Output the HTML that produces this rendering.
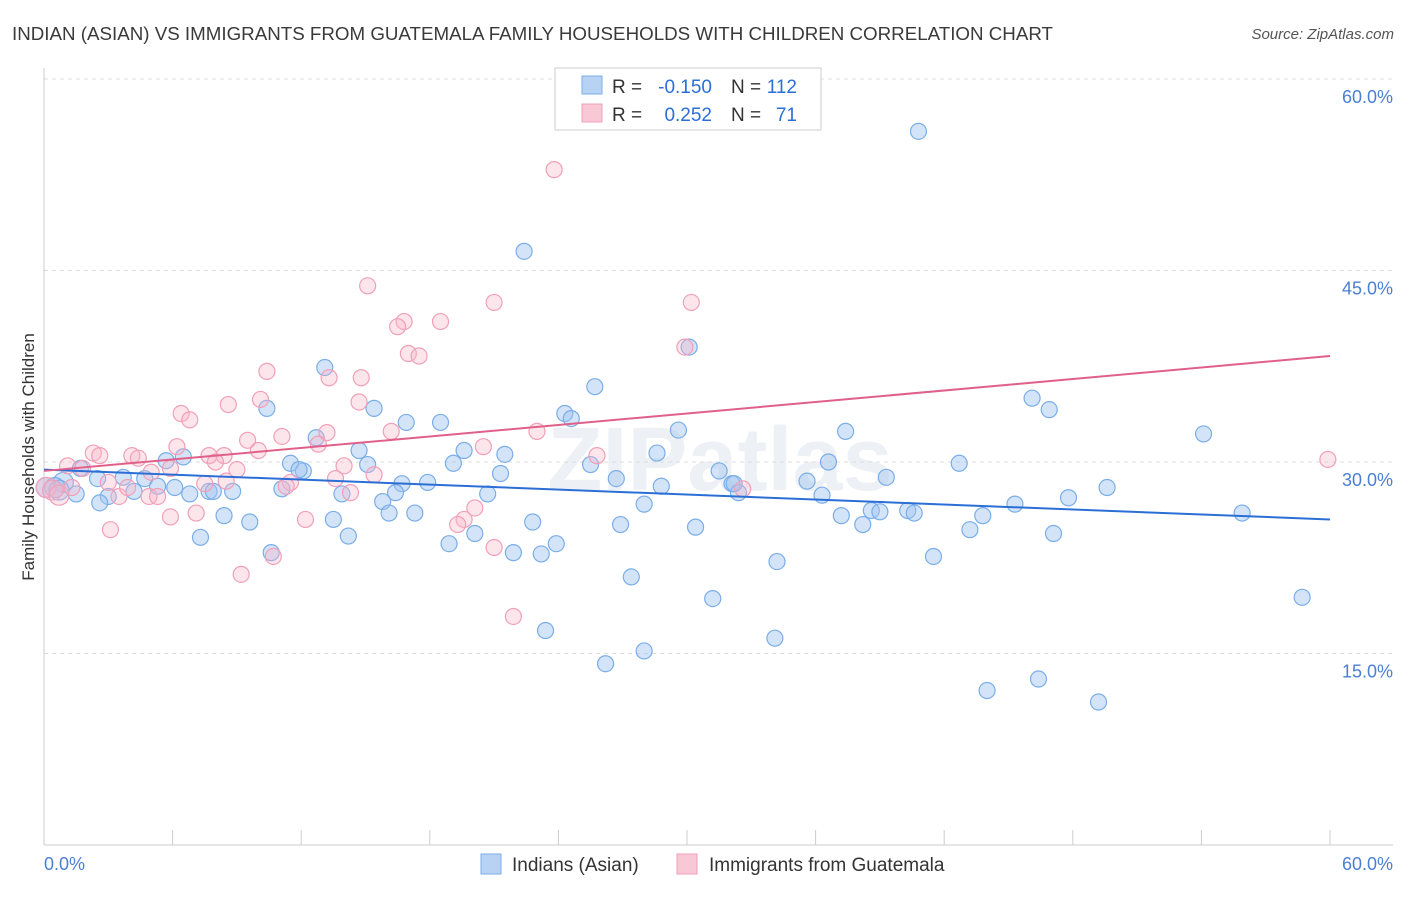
<!DOCTYPE html>
<html><head><meta charset="utf-8"><style>
body{margin:0;background:#fff;font-family:"Liberation Sans",sans-serif;}
svg text{font-family:"Liberation Sans",sans-serif;}
</style></head><body>
<svg id="chart" width="1406" height="892" xmlns="http://www.w3.org/2000/svg">
<text x="12" y="40" font-size="18" fill="#3a3a3a" textLength="1041" lengthAdjust="spacingAndGlyphs">INDIAN (ASIAN) VS IMMIGRANTS FROM GUATEMALA FAMILY HOUSEHOLDS WITH CHILDREN CORRELATION CHART</text>
<text x="1394" y="39" font-size="15" fill="#555" text-anchor="end" font-style="italic">Source: ZipAtlas.com</text>
<text x="720" y="490" font-size="90" fill="#edf0f4" text-anchor="middle" font-weight="bold">ZIPatlas</text>
<g id="grid"></g><g id="axes"></g><g id="pts"></g><g id="lines"></g>
<text transform="translate(34,457) rotate(-90)" font-size="17" fill="#333" text-anchor="middle">Family Households with Children</text>
<g font-size="19">
<rect x="555" y="68" width="266" height="62" fill="#fff" stroke="#ccc"/>
<rect x="582" y="76" width="20" height="18" fill="#b8d2f4" stroke="#7aaee8"/>
<rect x="582" y="104" width="20" height="18" fill="#f9c8d6" stroke="#f0a0b8"/>
<text x="612" y="93" fill="#333">R =</text>
<text x="712" y="93" fill="#2b6fd6" text-anchor="end">-0.150</text>
<text x="731" y="93" fill="#333">N =</text>
<text x="797" y="93" fill="#2b6fd6" text-anchor="end">112</text>
<text x="612" y="121" fill="#333">R =</text>
<text x="712" y="121" fill="#2b6fd6" text-anchor="end">0.252</text>
<text x="731" y="121" fill="#333">N =</text>
<text x="797" y="121" fill="#2b6fd6" text-anchor="end">71</text>
</g>
<g>
<rect x="481" y="854" width="20" height="20" fill="#b8d2f4" stroke="#7aaee8"/>
<text x="512" y="871" font-size="19" fill="#333">Indians (Asian)</text>
<rect x="677" y="854" width="20" height="20" fill="#f9c8d6" stroke="#f0a0b8"/>
<text x="709" y="871" font-size="19" fill="#333">Immigrants from Guatemala</text>
</g>
</svg>
<script>
const xTicks=[0,6,12,18,24,30,36,42,48,54,60];
const yTicks=[15,30,45,60];
const blueX=[40.8,22.4,30.1,13.1,25.7,46.1,46.9,10.4,15.4,24.3,24.6,16.9,18.5,29.6,37.4,54.1,12.7,14.7,19.6,28.6,21.5,6.5,5.7,11.5,15.1,19.1,36.6,42.7,12.1,25.5,31.5,26.7,39.3,1.7,21.3,3.7,4.7,2.5,0.9,0.5,17.9,16.7,32.1,35.6,49.6,28.8,0.1,0.7,1.5,4.2,5.3,6.1,7.7,8.8,11.1,13.9,16.4,20.7,6.8,7.9,32.4,36.3,47.8,3.0,2.6,15.8,28.0,45.3,16.1,17.3,8.4,9.6,13.5,22.8,37.2,38.6,39.0,40.3,40.6,43.8,26.9,30.4,38.2,43.2,55.9,7.3,14.2,20.1,18.9,23.9,21.9,23.2,10.6,47.1,41.5,34.2,27.4,31.2,58.7,23.4,34.1,26.2,28.0,44.0,46.4,49.2,32.2,11.9];
const blueY=[55.9,46.5,39.0,37.4,35.9,35.0,34.1,34.2,34.2,33.8,33.4,33.1,33.1,32.5,32.4,32.2,31.9,30.9,30.9,30.7,30.6,30.4,30.1,29.9,29.8,29.9,30.0,29.9,29.3,29.8,29.3,28.7,28.8,29.5,29.1,28.8,28.7,28.7,28.4,28.0,28.4,28.3,28.3,28.5,28.0,28.1,28.0,27.8,27.5,27.7,28.1,28.0,27.7,27.7,27.9,27.5,27.6,27.5,27.5,27.7,27.6,27.4,27.2,27.3,26.8,26.9,26.7,26.7,26.0,26.0,25.8,25.3,25.5,25.3,25.8,26.2,26.1,26.2,26.0,25.8,25.1,24.9,25.1,24.7,26.0,24.1,24.2,24.4,23.6,23.6,22.9,22.8,22.9,24.4,22.6,22.2,21.0,19.3,19.4,16.8,16.2,14.2,15.2,12.1,13.0,11.2,28.3,29.4];
const pinkX=[23.8,15.1,21.0,30.2,16.8,18.5,16.5,17.0,17.5,10.4,13.3,14.8,29.9,10.1,14.7,8.6,6.4,6.8,16.2,23.0,13.2,12.8,9.5,11.1,6.2,10.0,20.5,2.3,2.6,4.1,4.4,7.7,8.4,25.8,1.1,1.8,8.0,14.0,5.9,9.0,15.4,13.6,5.0,11.5,11.3,7.5,3.0,0.1,0.4,0.7,1.3,3.5,4.9,14.3,32.6,3.9,5.3,5.9,7.1,12.2,20.1,19.6,19.3,3.1,21.0,10.7,9.2,21.9,59.9,8.5];
const pinkY=[52.9,43.8,42.5,42.5,41.0,41.0,40.6,38.5,38.3,37.1,36.6,36.6,39.0,34.9,34.7,34.5,33.8,33.3,32.4,32.4,32.3,31.4,31.7,32.0,31.2,30.9,31.2,30.7,30.5,30.5,30.3,30.5,30.5,30.5,29.7,29.5,30.0,29.7,29.5,29.4,29.0,28.7,29.2,28.4,28.1,28.3,28.4,28.0,27.8,27.4,28.0,27.3,27.3,27.6,27.9,28.0,27.3,25.7,26.0,25.5,26.4,25.5,25.1,24.7,23.3,22.6,21.2,17.9,30.2,28.5];
const blueTrend=[29.4,25.5];
const pinkTrend=[29.3,38.3];
const NS="http://www.w3.org/2000/svg";
const X=v=>44+v/60*1286, Y=v=>845-v/60*766;
function mk(tag,attrs,parent){const e=document.createElementNS(NS,tag);for(const k in attrs)e.setAttribute(k,attrs[k]);document.getElementById(parent).appendChild(e);return e;}
yTicks.forEach(t=>{
 const g=mk('line',{x1:44,x2:1393,y1:Y(t),y2:Y(t),stroke:'#dcdcdc','stroke-dasharray':'4,4'},'grid');
 
 
 const l=mk('text',{x:1393,y:Y(t)+24,'font-size':18,fill:'#4a7fd4','text-anchor':'end'},'grid');l.textContent=t.toFixed(1)+'%';
 
 
});
mk('line',{x1:44,x2:44,y1:68,y2:845,stroke:'#ccc'},'axes');
mk('line',{x1:44,x2:1393,y1:845,y2:845,stroke:'#ccc'},'axes');
xTicks.forEach(t=>{const tk=mk('line',{x1:X(t),x2:X(t),y1:830,y2:845,stroke:'#ccc'},'axes');
 
 });
[[0,'start'],[60,'end']].forEach(([t,a])=>{const l=mk('text',{x:t==0?44:1393,y:870,'font-size':18,fill:'#4a7fd4','text-anchor':a},'axes');l.textContent=t.toFixed(1)+'%';
 
 });
function dots(xs,ys,fill,stroke,name){xs.forEach((x,i)=>{const r=x<1.0?10:8;const c=mk('circle',{cx:X(x),cy:Y(ys[i]),r:r,fill:fill,stroke:stroke,'stroke-width':1.2},'pts');
 
 });}
dots(blueX,blueY,'rgba(160,196,240,0.45)','#7aaee8','indian-point');
dots(pinkX,pinkY,'rgba(248,180,200,0.35)','#f0a0b8','guatemala-point');
const bl=mk('line',{x1:X(0),y1:Y(blueTrend[0]),x2:X(60),y2:Y(blueTrend[1]),stroke:'#2b6fd6','stroke-width':2},'lines');


const pl=mk('line',{x1:X(0),y1:Y(pinkTrend[0]),x2:X(60),y2:Y(pinkTrend[1]),stroke:'#e0608a','stroke-width':2},'lines');


</script>
</body></html>
